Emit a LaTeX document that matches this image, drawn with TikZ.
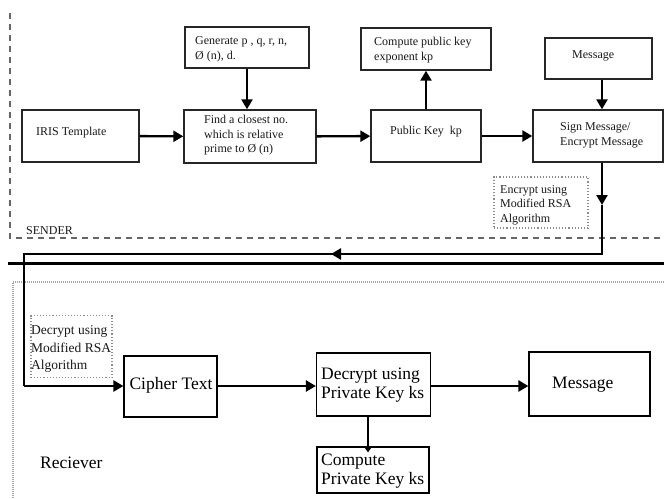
\documentclass[tikz,border=0pt]{standalone}
\usepackage{fontspec}
\setmainfont{Liberation Serif}
\usetikzlibrary{arrows.meta}
\begin{document}
\begin{tikzpicture}[x=1pt,y=-1pt,
  box/.style={draw=black!85, line width=1.4pt, inner sep=0pt},
  bbox/.style={draw=black, line width=1.2pt, inner sep=0pt},
  dbox/.style={draw=black!45, line width=1.1pt, dotted, inner sep=0pt},
  arr/.style={line width=2.4pt, -{Triangle[length=10pt,width=11pt]}},
  sarr/.style={line width=2pt, -{Triangle[length=6pt,width=8pt]}},
  plainln/.style={line width=2.4pt},
  txt/.style={inner sep=0pt, align=left, text=black!90, font=\fontsize{12}{14.5}\selectfont},
  btxt/.style={inner sep=0pt, align=left, font=\fontsize{17.5}{19}\selectfont},
]
\useasboundingbox[fill=white] (0,0) rectangle (664,498);

% sender region border
\draw[black!60, line width=1.3pt, dash pattern=on 6pt off 5pt] (10,13) -- (10,238) -- (664,238);
% receiver region border
\draw[black!35, line width=2pt, dash pattern=on 1pt off 1pt] (13,498) -- (13,282) -- (664,282);
% thick separator
\draw[black, line width=3pt] (8,263) -- (664,263);

% sender boxes
\node[box, minimum width=117pt, minimum height=52pt] (iris) at (80.5,136) {};
\node[txt, anchor=west] (tiris) at (36,133) {IRIS Template};
\node[box, minimum width=132pt, minimum height=53pt] (find) at (250,136.5) {};
\node[txt, anchor=west] (tfind) at (204,135.5) {Find a closest no.\\which is relative\\prime to Ø (n)};
\node[box, minimum width=124pt, minimum height=41pt] (gen) at (247,47.5) {};
\node[txt, anchor=west] (tgen) at (195,49.5) {Generate p , q, r, n,\\Ø (n), d.};
\node[box, minimum width=130pt, minimum height=42pt] (cpk) at (426,49) {};
\node[txt, anchor=west] (tcpk) at (374,50) {Compute public key\\exponent kp};
\node[box, minimum width=110pt, minimum height=52pt] (pk) at (426,136) {};
\node[txt] (tpk) at (426,132) {Public Key\ \ kp};
\node[box, minimum width=107pt, minimum height=41pt] (msg) at (598.5,58.5) {};
\node[txt, anchor=west] (tmsg) at (572,56) {Message};
\node[box, minimum width=130pt, minimum height=52pt] (sign) at (598,136) {};
\node[txt, anchor=west] (tsign) at (560,135.5) {Sign Message/\\Encrypt Message};
\node[dbox, minimum width=94pt, minimum height=51pt] (enc) at (541,202.5) {};
\node[txt, anchor=west] (tenc) at (500,205) {Encrypt using\\Modified RSA\\Algorithm};
\node[txt, anchor=west] (sender) at (26,231) {SENDER};

% receiver boxes
\node[dbox, minimum width=81pt, minimum height=62pt] (dec) at (71.5,346.5) {};
\node[txt, anchor=west, font=\fontsize{13.5}{17.5}\selectfont] (tdec) at (31,349) {Decrypt using\\Modified RSA\\Algorithm};
\node[bbox, minimum width=93pt, minimum height=61pt] (ciph) at (170.5,386.5) {};
\node[btxt] (tciph) at (171,385) {Cipher Text};
\node[bbox, minimum width=114pt, minimum height=63pt] (dpk) at (373.5,384.5) {};
\node[btxt, anchor=west] (tdpk) at (321,385) {Decrypt using\\Private Key ks};
\node[bbox, minimum width=121pt, minimum height=64pt] (rmsg) at (589.5,384) {};
\node[btxt, anchor=west] (trmsg) at (552,385) {Message};
\node[bbox, minimum width=112pt, minimum height=46pt] (cpr) at (373,470) {};
\node[btxt, anchor=west] (tcpr) at (321,471) {Compute\\Private Key ks};
\node[btxt, anchor=west] (recv) at (40,463) {Reciever};

% sender arrows
\draw[arr] (iris) -- (find);
\draw[arr] (gen) -- (gen |- find.north);
\draw[arr] (find) -- (pk);
\draw[arr] (pk) -- (cpk);
\draw[arr] (pk) -- (sign);
\coordinate (mx) at (602,0);
\draw[arr] (msg.south -| mx) -- (sign.north -| mx);

% long path from sender to receiver
\coordinate (p1) at (602,205);
\coordinate (p2) at (602,254);
\coordinate (p3) at (331,254);
\coordinate (p4) at (24,254);
\coordinate (p5) at (24,386);
\draw[arr] (sign.south -| mx) -- (p1);
\draw[plainln] (p1) -- (p2) -- (p3);
\draw[arr] (p2) -- (p3);
\draw[plainln, line join=miter] (p3) -- (p4) -- (p5);
\draw[arr] (p5) -- (ciph.west |- p5);

% receiver arrows
\draw[arr] (ciph.east |- p5) -- (dpk.west |- p5);
\draw[arr] (dpk.east |- p5) -- (rmsg.west |- p5);
\coordinate (dx) at (368,0);
\draw[sarr] (dpk.south -| dx) -- ([yshift=-6pt]cpr.north -| dx);
\end{tikzpicture}
\end{document}
